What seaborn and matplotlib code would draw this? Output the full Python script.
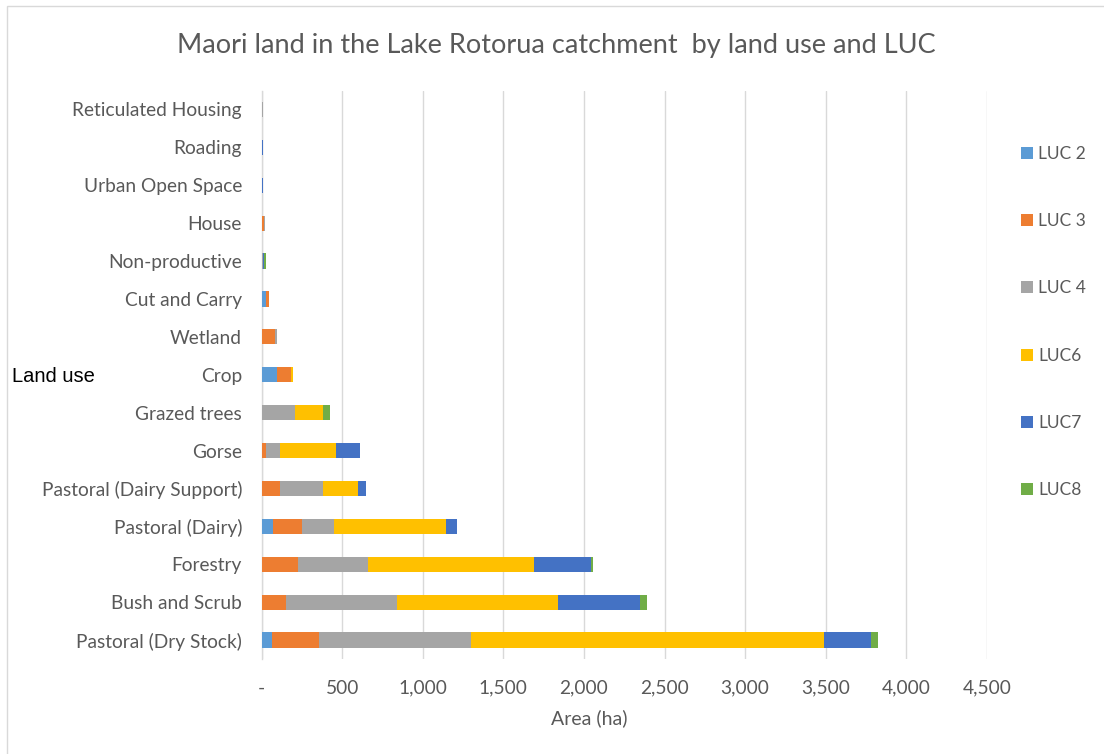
import matplotlib
matplotlib.use("Agg")
import matplotlib.pyplot as plt
from matplotlib.patches import Patch, Rectangle
from matplotlib.ticker import FixedLocator, FuncFormatter
import numpy as np
import pandas as pd
import seaborn as sns

# Land uses, listed top to bottom
land_uses = [
    "Reticulated Housing", "Roading", "Urban Open Space", "House",
    "Non-productive", "Cut and Carry", "Wetland", "Crop", "Grazed trees",
    "Gorse", "Pastoral (Dairy Support)", "Pastoral (Dairy)", "Forestry",
    "Bush and Scrub", "Pastoral (Dry Stock)",
]

# Area (ha) per land use capability class
luc2 = [0, 0, 6, 0, 0, 25, 0, 94, 0, 0, 0, 70, 0, 0, 63]
luc3 = [0, 0, 0, 14, 0, 20, 84, 89, 0, 26, 115, 183, 225, 154, 294]
luc4 = [8, 0, 0, 5, 8, 0, 12, 0, 208, 89, 265, 197, 435, 688, 943]
luc6 = [0, 6, 0, 0, 0, 4, 0, 15, 172, 346, 217, 696, 1033, 995, 2186]
luc7 = [0, 6, 6, 0, 10, 0, 0, 0, 0, 153, 52, 68, 352, 508, 294]
luc8 = [0, 0, 0, 0, 7, 0, 0, 0, 45, 0, 0, 0, 10, 47, 45]

series_names = ["LUC 2", "LUC 3", "LUC 4", "LUC6", "LUC7", "LUC8"]
series_values = [luc2, luc3, luc4, luc6, luc7, luc8]
series_colors = ["#5B9BD5", "#ED7D31", "#A5A5A5", "#FFC000", "#4472C4", "#70AD47"]

x_ticks = [0, 500, 1000, 1500, 2000, 2500, 3000, 3500, 4000, 4500]

sns.set_theme(style="white")
plt.rcParams["font.family"] = ["Lato", "DejaVu Sans"]

text_grey = "#595959"
grid_grey = "#D9D9D9"

fig = plt.figure(figsize=(11.04, 7.54), dpi=100)
W, H = 1104, 754
ax = fig.add_axes([261.5 / W, 1 - 659 / H, (987 - 261.5) / W, (659 - 90.5) / H])

# Stacked bars: draw running totals from the widest down so each segment shows
cum = np.cumsum(np.array(series_values, dtype=float), axis=0)
for i in range(len(series_names) - 1, -1, -1):
    df = pd.DataFrame({"land_use": land_uses, "area": cum[i]})
    sns.barplot(data=df, y="land_use", x="area", orient="h", order=land_uses,
                color=series_colors[i], saturation=1, width=0.4,
                linewidth=0, ax=ax, zorder=3)

ax.set_xlim(0, 4500)
ax.set_ylim(len(land_uses) - 0.5, -0.5)
ax.xaxis.set_major_locator(FixedLocator(x_ticks))
ax.xaxis.set_major_formatter(FuncFormatter(lambda v, p: "-" if v == 0 else f"{int(v):,}"))
ax.grid(axis="x", color=grid_grey, linewidth=1, zorder=0)
ax.grid(axis="y", visible=False)
for side in ["top", "right", "bottom"]:
    ax.spines[side].set_visible(False)
ax.spines["left"].set_color(grid_grey)
ax.spines["left"].set_linewidth(1)
ax.set_xlabel("")
ax.set_ylabel("")
ax.tick_params(axis="both", length=0, labelsize=13.8, colors=text_grey)
ax.tick_params(axis="y", pad=14)
ax.tick_params(axis="x", pad=15)

fig.text(556 / W, 1 - 45 / H, "Maori land in the Lake Rotorua catchment  by land use and LUC",
         ha="center", va="center", fontsize=19.5, color=text_grey)
fig.text(589 / W, 1 - 718 / H, "Area (ha)", ha="center", va="center",
         fontsize=14, color=text_grey)
fig.text(12 / W, 1 - 377 / H, "Land use", ha="left", va="center", fontsize=14.5,
         color="black", family=["Liberation Sans", "DejaVu Sans"])

handles = [Patch(facecolor=c, edgecolor="none") for c in series_colors]
fig.legend(handles, series_names, loc="upper left",
           bbox_to_anchor=(1021 / W, 1 - 146 / H), frameon=False, borderaxespad=0,
           fontsize=12.5, labelcolor=text_grey, handlelength=0.68, handleheight=0.68,
           handletextpad=0.3, labelspacing=2.95, borderpad=0)

# Chart frame
fig.add_artist(Rectangle((7 / W, -0.05), 1.2, 1 - 6 / H + 0.05, transform=fig.transFigure,
                         fill=False, edgecolor="#D9D9D9", linewidth=1))

fig.savefig("out.png", dpi=100, facecolor="white")
